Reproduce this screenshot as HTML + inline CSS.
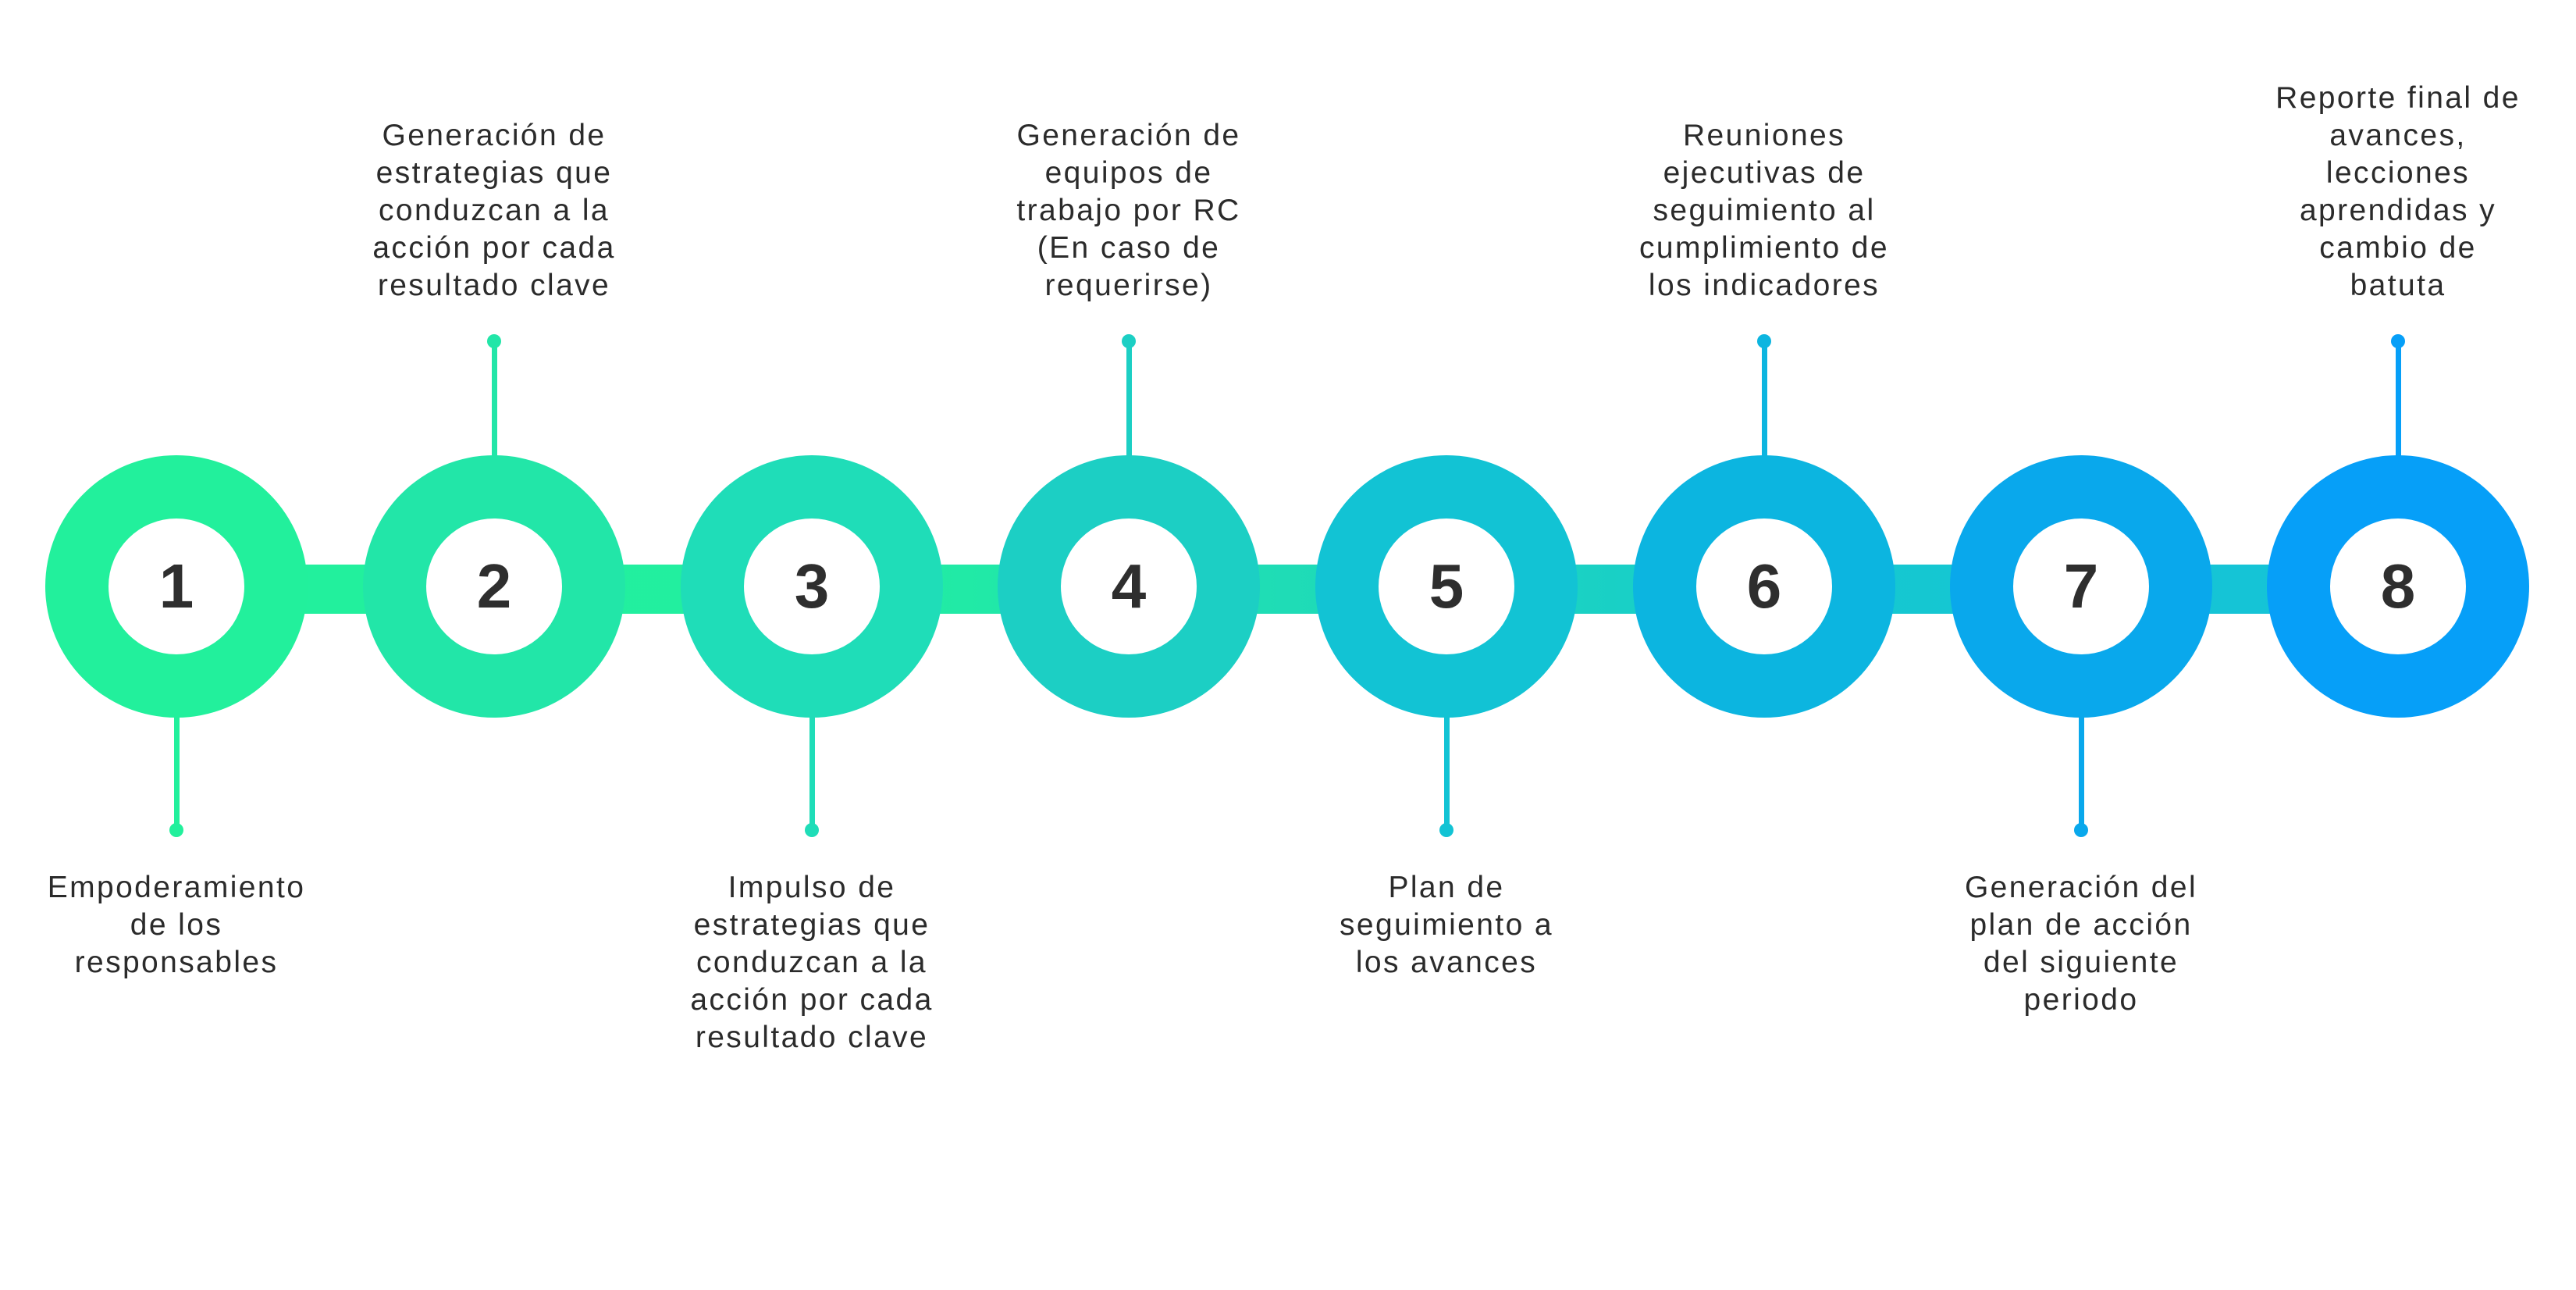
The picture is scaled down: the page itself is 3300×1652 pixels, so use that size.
<!DOCTYPE html>
<html><head><meta charset="utf-8"><style>
body{margin:0;width:3300px;height:1652px;background:#fff;position:relative;overflow:hidden;font-family:"Liberation Sans",sans-serif}
.bar{position:absolute;left:226px;width:2846px;top:723px;height:63px;background:linear-gradient(90deg,#22F09C 0%,#22EFA0 30%,#1fdcb6 50%,#15c8d0 75%,#15c2d8 100%)}
.c{position:absolute;width:336px;height:336px;border-radius:50%;top:583px}
.c .in{position:absolute;left:81px;top:81px;width:174px;height:174px;border-radius:50%;background:#fff;text-align:center;line-height:174px;font-weight:900;font-size:80px;color:#2e2e2e}
.st{position:absolute;width:7px}
.dot{position:absolute;width:18px;height:18px;border-radius:50%}
.lb{position:absolute;width:500px;text-align:center;font-size:39px;line-height:48px;color:#2b2b2b;letter-spacing:2.4px}
.top{bottom:1262px}
.bot{top:1113px}
</style></head><body>
<div class="bar"></div>
<div id="wrap"></div>
<script>
var cx=[226,633,1040,1446,1853,2260,2666,3072];
var col=["#22F09C","#22E6A8","#1FDDB8","#1CCFC4","#12C3D4","#0CB5E0","#09A8EC","#069FF8"];
var txt=["Empoderamiento<br>de los<br>responsables","Generación de<br>estrategias que<br>conduzcan a la<br>acción por cada<br>resultado clave","Impulso de<br>estrategias que<br>conduzcan a la<br>acción por cada<br>resultado clave","Generación de<br>equipos de<br>trabajo por RC<br>(En caso de<br>requerirse)","Plan de<br>seguimiento a<br>los avances","Reuniones<br>ejecutivas de<br>seguimiento al<br>cumplimiento de<br>los indicadores","Generación del<br>plan de acción<br>del siguiente<br>periodo","Reporte final de<br>avances,<br>lecciones<br>aprendidas y<br>cambio de<br>batuta"];
var h="";
for(var i=0;i<8;i++){
var x=cx[i],c=col[i],up=(i%2==1);
if(up){h+='<div class="st" style="left:'+(x-3.5)+'px;top:437px;height:150px;background:'+c+'"></div><div class="dot" style="left:'+(x-9)+'px;top:428px;background:'+c+'"></div><div class="lb top" style="left:'+(x-250)+'px">'+txt[i]+'</div>';}
else{h+='<div class="st" style="left:'+(x-3.5)+'px;top:915px;height:148px;background:'+c+'"></div><div class="dot" style="left:'+(x-9)+'px;top:1054px;background:'+c+'"></div><div class="lb bot" style="left:'+(x-250)+'px">'+txt[i]+'</div>';}
h+='<div class="c" style="left:'+(x-168)+'px;background:'+c+'"><div class="in">'+(i+1)+'</div></div>';
}
document.getElementById("wrap").innerHTML=h;
</script>
</body></html>
